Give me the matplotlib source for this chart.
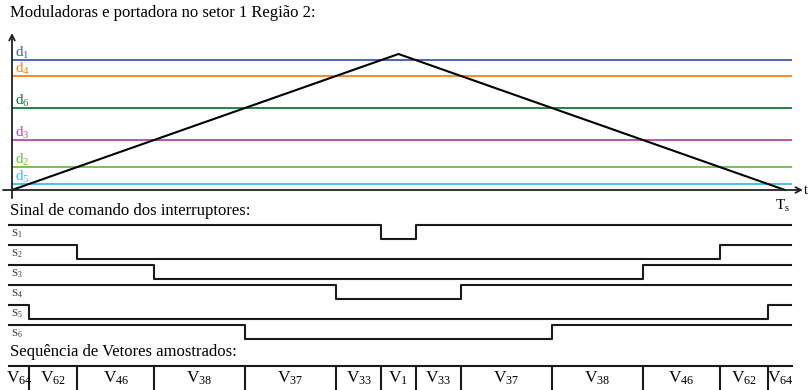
import numpy as np
import matplotlib.pyplot as plt

plt.rcParams['font.family'] = ['Liberation Serif', 'DejaVu Serif']
plt.rcParams['mathtext.default'] = 'regular'

# moduladoras (razões cíclicas) e portadora triangular
nomes = ['1', '4', '6', '3', '2', '5']
duty = [0.956, 0.838, 0.603, 0.368, 0.169, 0.044]
cores = ['#3d5ba9', '#f4821f', '#16763a', '#b24a9f', '#6cbd45', '#3bbbe8']
port_t = [0.0, 0.5, 1.0]
port_v = [0.0, 1.0, 0.0]

# interruptores S1..S6 (cada um ligado à moduladora de mesmo índice)
chaves = ['1', '2', '3', '4', '5', '6']
vetores = ['64', '62', '46', '38', '37', '33', '1', '33', '37', '38', '46', '62', '64']

W, H = 809, 390
fig = plt.figure(figsize=(W / 100, H / 100), dpi=100)

x0, x1 = 12, 785  # pixels de t=0 e t=Ts


def px2t(px):
    return (px - x0) / (x1 - x0)


def eixo(py_top, py_bot):
    ax = fig.add_axes([0, 1 - py_bot / H, 1, (py_bot - py_top) / H])
    ax.set_xlim(px2t(0), px2t(W))
    ax.axis('off')
    return ax


fig.text(10 / W, 1 - 13 / H, 'Moduladoras e portadora no setor 1 Região 2:',
         fontsize=12, va='center', ha='left')

# --- moduladoras e portadora ---
ax1 = eixo(25, 215)
y0p, y1p = 190, 54
ax1.set_ylim((y0p - 215) / (y0p - y1p), (y0p - 25) / (y0p - y1p))
for n, d, c in zip(nomes, duty, cores):
    ax1.plot([0, px2t(792)], [d, d], color=c, lw=1.3, solid_capstyle='butt')
    ax1.text(px2t(15), d + 0.025, 'd$_{%s}$' % n, color=c, fontsize=11,
             va='baseline', ha='left')
ax1.plot(port_t, port_v, color='black', lw=1.5)
ax1.annotate('', xy=(px2t(803), 0), xytext=(px2t(3), 0),
             arrowprops=dict(arrowstyle='->', color='#222222', lw=1.3,
                             mutation_scale=10, shrinkA=0, shrinkB=0))
ax1.annotate('', xy=(0, (y0p - 33) / (y0p - y1p)), xytext=(0, -0.06),
             arrowprops=dict(arrowstyle='->', color='#222222', lw=1.3,
                             mutation_scale=10, shrinkA=0, shrinkB=0))
ax1.text(px2t(804), 0.0, 't', fontsize=10, va='center', ha='left')
ax1.text(px2t(783), -0.06, 'T$_s$', fontsize=11, va='top', ha='center')

# --- sinais de comando ---
fig.text(10 / W, 1 - 211 / H, 'Sinal de comando dos interruptores:',
         fontsize=12, va='center', ha='left')
ax2 = eixo(205, 345)
ax2.set_ylim(-6, 1)
amp = 0.7
ordem = {n: d for n, d in zip(nomes, duty)}
for i, s in enumerate(chaves):
    d = ordem[s]
    t_on, t_off = d / 2, 1 - d / 2
    xs = [px2t(9), t_on, t_on, t_off, t_off, px2t(791)]
    ys = [0, 0, -amp, -amp, 0, 0]
    ax2.plot(xs, np.array(ys) - i, color='#1a1a1a', lw=1.5)
    ax2.text(px2t(11), -i - 0.42, 'S$_{%s}$' % s, fontsize=8,
             va='center', ha='left', color='#333333')

# --- sequência de vetores ---
fig.text(10 / W, 1 - 352 / H, 'Sequência de Vetores amostrados:',
         fontsize=12, va='center', ha='left')
ax3 = eixo(362, 390)
ax3.set_ylim(-28 / 24, 4 / 24)
ax3.plot([px2t(9), px2t(792)], [0, 0], color='#1a1a1a', lw=1.5)
bordas = sorted([d / 2 for d in duty] + [1 - d / 2 for d in duty])
for b in bordas:
    ax3.plot([b, b], [0, -2], color='#1a1a1a', lw=1.5)
lim = [px2t(9)] + bordas + [px2t(792)]
for k, v in enumerate(vetores):
    ax3.text((lim[k] + lim[k + 1]) / 2, -0.62, 'V$_{%s}$' % v, fontsize=12.5,
             va='center', ha='center')

fig.savefig('out.png', dpi=100)
